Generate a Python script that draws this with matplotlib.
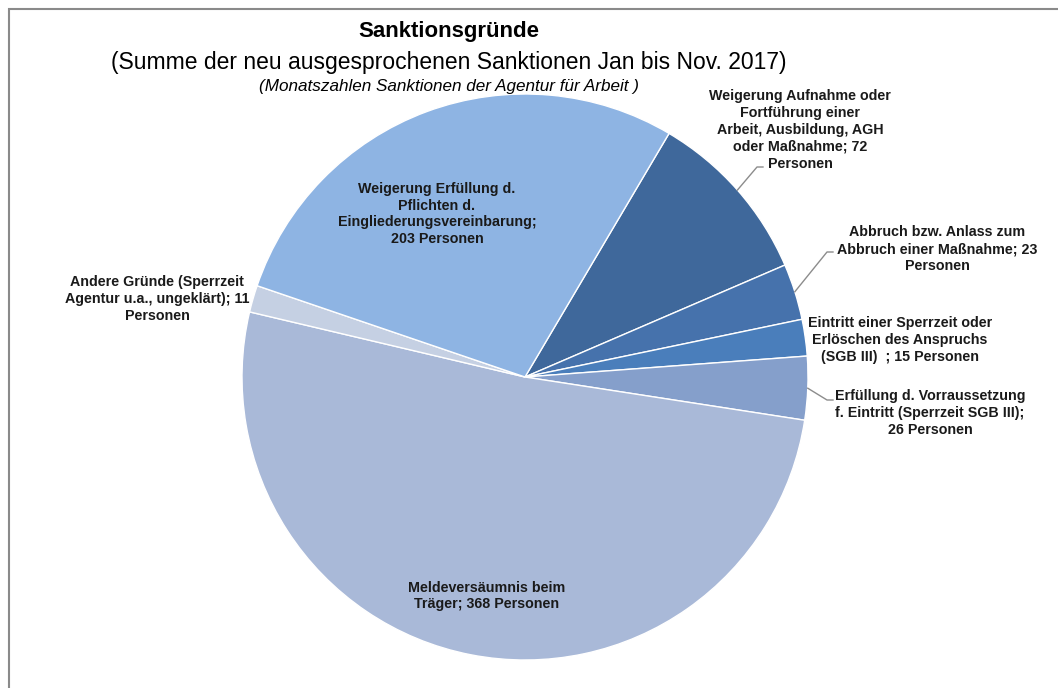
import numpy as np
import matplotlib
matplotlib.use("Agg")
import matplotlib.pyplot as plt
from matplotlib.patches import Rectangle

# Data (clockwise order starting at upper right)
categories = [
    "Weigerung Aufnahme oder\nFortführung einer\nArbeit, Ausbildung, AGH\noder Maßnahme; 72\nPersonen",
    "Abbruch bzw. Anlass zum\nAbbruch einer Maßnahme; 23\nPersonen",
    "Eintritt einer Sperrzeit oder\nErlöschen des Anspruchs\n(SGB III)  ; 15 Personen",
    "Erfüllung d. Vorraussetzung\nf. Eintritt (Sperrzeit SGB III);\n26 Personen",
    "Meldeversäumnis beim\nTräger; 368 Personen",
    "Andere Gründe (Sperrzeit\nAgentur u.a., ungeklärt); 11\nPersonen",
    "Weigerung Erfüllung d.\nPflichten d.\nEingliederungsvereinbarung;\n203 Personen",
]
values = [72, 23, 15, 26, 368, 11, 203]
colors = ["#3F689B", "#4672AC", "#4A7EBB", "#859FCB", "#A9B9D8", "#C5D0E3", "#8EB4E3"]

title = "Sanktionsgründe"
subtitle = "(Summe der neu ausgesprochenen Sanktionen Jan bis Nov. 2017)"
source = "(Monatszahlen Sanktionen der Agentur für Arbeit )"

W, H = 1058, 688
fig = plt.figure(figsize=(W / 100, H / 100), dpi=100)
ax = fig.add_axes([0, 0, 1, 1])

cx, cy, R = 525, H - 377, 283
wedges, _ = ax.pie(values, colors=colors, startangle=59.4, counterclock=False,
                   center=(cx, cy), radius=R, frame=True,
                   wedgeprops=dict(edgecolor="white", linewidth=1.0))
ax.set_xlim(0, W)
ax.set_ylim(0, H)
ax.set_aspect("equal")
ax.axis("off")

fp = dict(family="Liberation Sans", fontsize=10.3, fontweight="bold", color="#1a1a1a",
          ha="center", va="center", linespacing=1.27)

# label positions in pixel layout (x, y from top), and optional elbow for leader
label_pos = [(800, 130), (937, 249), (900, 340), (930, 413), (487, 596), (157, 299), (437, 214)]
elbows = [(757, 167), (827, 252), None, (827, 400), None, None, None]
ends = [(763, 167), (833, 252), None, (833, 400), None, None, None]

for w, txt, (lx, ly), el, en in zip(wedges, categories, label_pos, elbows, ends):
    ax.text(lx, H - ly, txt, **fp)
    if el is not None:
        ang = np.deg2rad((w.theta1 + w.theta2) / 2)
        px, py = cx + R * np.cos(ang), cy + R * np.sin(ang)
        ax.plot([px, el[0], en[0]], [py, H - el[1], H - en[1]], color="#8c8c8c", lw=1)

ax.text(449, H - 32, title, family="Liberation Sans", fontsize=16, fontweight="bold",
        ha="center", va="center", color="black")
ax.text(449, H - 62, subtitle, family="Liberation Sans", fontsize=16.5,
        ha="center", va="center", color="black")
ax.text(449, H - 86, source, family="Liberation Sans", fontsize=12.3, style="italic",
        ha="center", va="center", color="black")

fig.patches.append(Rectangle((9 / W, -0.1), 1.2, 1 - 9 / H + 0.1, transform=fig.transFigure,
                             fill=False, edgecolor="#8a8a8a", linewidth=1.5))

fig.savefig("out.png", dpi=100)
